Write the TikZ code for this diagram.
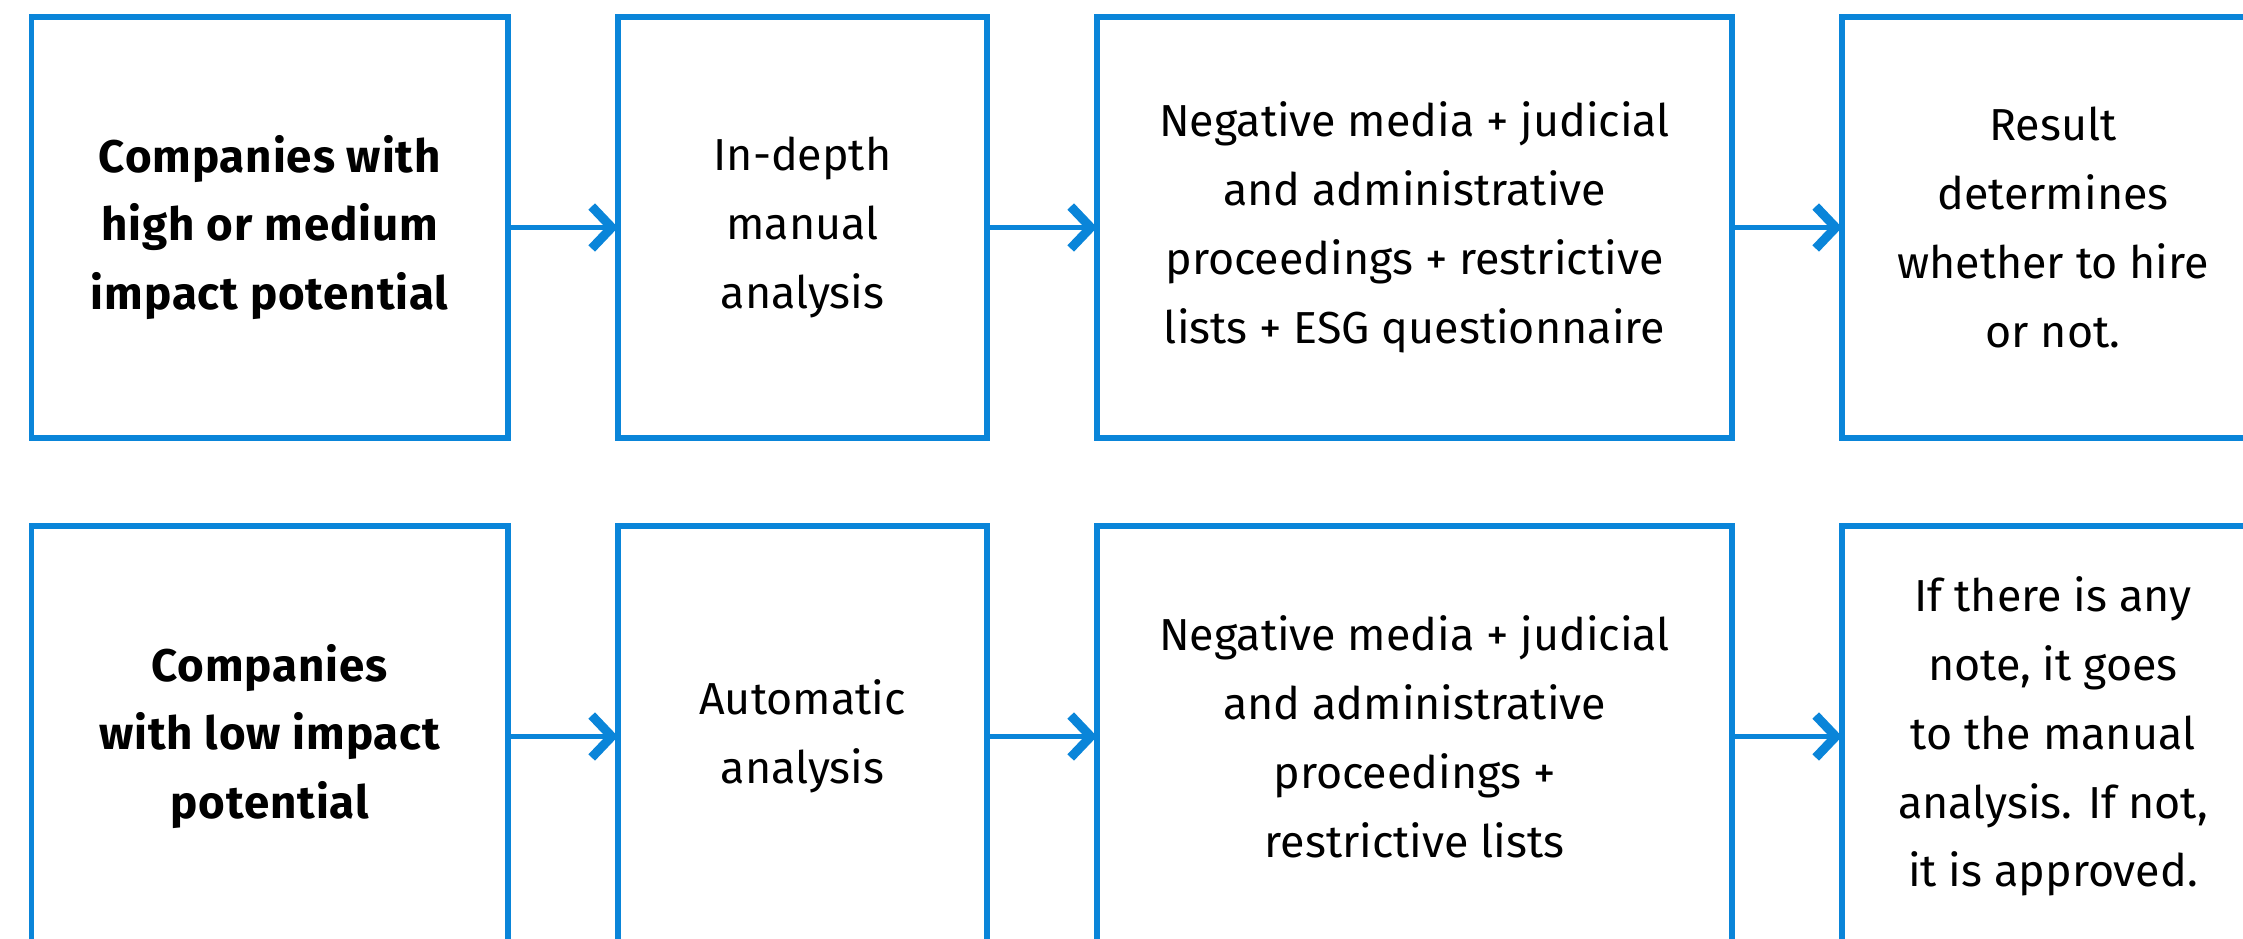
\documentclass[tikz,border=0pt]{standalone}
\usepackage{fontspec}
\setmainfont{Fira Sans}
\usepackage{tikz}
\usetikzlibrary{arrows.meta, positioning}
\definecolor{boxblue}{HTML}{0A85D9}

\begin{document}
\begin{tikzpicture}[
    stagebox/.style={draw=boxblue, line width=1.6pt, minimum height=4.21cm, inner sep=0pt, outer sep=0pt, align=center, font=\fontsize{12.75}{19.6}\selectfont},
    keybox/.style={stagebox, font=\fontsize{13}{19.6}\selectfont\bfseries\addfontfeatures{LetterSpace=2}},
    flow/.style={draw=boxblue, line width=1.6pt, -{Straight Barb[length=0.2cm, width=0.42cm, line width=2.6pt]}},
    node distance=1.1cm
  ]
  \useasboundingbox (0,0) rectangle (22.43,-9.39);
  \clip (0,0) rectangle (22.43,-9.39);

  \node[keybox, minimum width=4.765cm, anchor=north west] (hi1) at (0.315,-0.17) {Companies with\\high or medium\\impact potential};
  \node[stagebox, minimum width=3.69cm, right=of hi1] (hi2) {In-depth\\manual\\analysis};
  \node[stagebox, minimum width=6.35cm, right=of hi2] (hi3) {Negative media + judicial\\and administrative\\proceedings + restrictive\\lists + ESG questionnaire};
  \node[stagebox, minimum width=4.22cm, right=of hi3] (hi4) {Result\\determines\\whether to hire\\or not.};

  \node[keybox, minimum width=4.765cm, below=0.88cm of hi1] (lo1) {Companies\\with low impact\\potential};
  \node[stagebox, minimum width=3.69cm, right=of lo1] (lo2) {Automatic\\analysis};
  \node[stagebox, minimum width=6.35cm, right=of lo2] (lo3) {Negative media + judicial\\and administrative\\proceedings +\\restrictive lists};
  \node[stagebox, minimum width=4.22cm, right=of lo3] (lo4) {If there is any\\note, it goes\\to the manual\\analysis. If not,\\it is approved.};

  \draw[flow] (hi1) -- (hi2);
  \draw[flow] (hi2) -- (hi3);
  \draw[flow] (hi3) -- (hi4);
  \draw[flow] (lo1) -- (lo2);
  \draw[flow] (lo2) -- (lo3);
  \draw[flow] (lo3) -- (lo4);
\end{tikzpicture}
\end{document}
